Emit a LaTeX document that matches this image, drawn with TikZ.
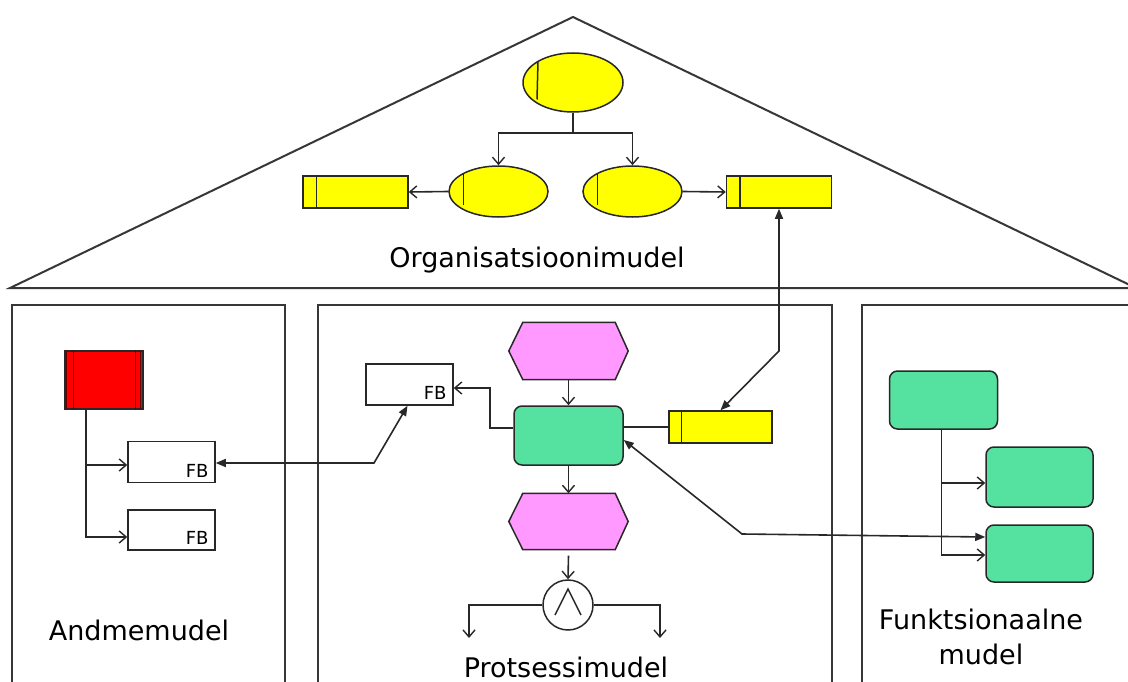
\documentclass[tikz,border=0pt]{standalone}
\usepackage{fontspec}
\setmainfont{DejaVu Sans}
\usetikzlibrary{shapes.geometric,arrows.meta,calc}
\definecolor{orgyellow}{RGB}{255,255,0}
\definecolor{evpink}{RGB}{255,153,255}
\definecolor{fngreen}{RGB}{85,225,160}
\definecolor{linegray}{RGB}{40,40,40}
\definecolor{framegray}{RGB}{55,55,55}
\definecolor{barred}{RGB}{100,0,0}
\begin{document}
\begin{tikzpicture}[x=1pt,y=-1pt,
  ln/.style={draw=linegray, line width=1.6pt},
  arr/.style={ln, -{Straight Barb[length=7pt,width=12pt,line width=1.4pt]}},
  arrboth/.style={ln, {Triangle[length=10pt,width=8pt]}-{Triangle[length=10pt,width=8pt]}},
  panel/.style={draw=framegray, line width=2pt},
  orgunit/.style={ellipse, draw=linegray, line width=1.5pt, fill=orgyellow, inner sep=0pt},
  role/.style={rectangle, draw=linegray, line width=1.5pt, fill=orgyellow, minimum width=105pt, minimum height=32pt, inner sep=0pt},
  fn/.style={rectangle, rounded corners=8pt, draw=linegray, line width=1.5pt, fill=fngreen, minimum width=108pt, minimum height=58pt, inner sep=0pt},
  evbox/.style={rectangle, minimum width=119pt, minimum height=57pt, inner sep=0pt},
  hexa/.style={draw=linegray, line width=1.5pt, fill=evpink},
  fbbox/.style={rectangle, draw=linegray, line width=1.5pt, fill=white, minimum width=87pt, minimum height=41pt, inner sep=0pt},
  fbtxt/.style={font=\fontsize{18}{18}\selectfont, inner sep=0pt, anchor=base east},
  lbl/.style={font=\fontsize{27}{35}\selectfont, inner sep=0pt, align=center},
  tick/.style={draw=linegray, line width=1.5pt},
]
\useasboundingbox (0,0) rectangle (1128,682);
\clip (0,0) rectangle (1128,682);
\fill[white] (0,0) rectangle (1128,682);

% roof and the three pillars
\draw[panel] (10,288) -- (573,17) -- (1136,288) -- cycle;
\draw[panel] (12,305) rectangle (285,700);
\draw[panel] (318,305) rectangle (832,700);
\draw[panel] (862,305) rectangle (1140,700);

% ---------------- organisation model ----------------
\node[orgunit, minimum width=100pt, minimum height=59pt] (ouTop) at (573,82.5) {};
\node[orgunit, minimum width=99pt, minimum height=51pt] (ouL) at (498.5,191.5) {};
\node[orgunit, minimum width=99pt, minimum height=51pt] (ouR) at (632.5,191.5) {};
\draw[tick] ($(ouTop.center)+(-35,-21)$) -- ($(ouTop.center)+(-36,17)$);
\draw[tick] ($(ouL.center)+(-35,-18)$) -- ($(ouL.center)+(-35,14)$);
\draw[tick] ($(ouR.center)+(-35,-18)$) -- ($(ouR.center)+(-35,14)$);
\node[role] (roL) at (355.5,192) {};
\node[role] (roR) at (779,192) {};
\draw[tick] ($(roL.north west)+(14,0)$) -- ($(roL.south west)+(14,0)$);
\draw[tick] ($(roR.north west)+(14,0)$) -- ($(roR.south west)+(14,0)$);
\draw[arr] (ouTop.south) -- ++(0,20) -| (ouL.north);
\draw[arr] (ouTop.south) -- ++(0,20) -| (ouR.north);
\draw[arr] (ouL.west) -- (roL.east);
\draw[arr] (ouR.east) -- (roR.west);
\node[lbl] (tOrg) at (537,260) {Organisatsioonimudel};

% ---------------- data model ----------------
\node[rectangle, draw=linegray, line width=1.5pt, fill=red, minimum width=78pt, minimum height=58pt, inner sep=0pt] (ent) at (104,380) {};
\foreach \dx in {2.5,9} \draw[barred, line width=1.4pt] ($(ent.north west)+(\dx,0)$) -- ($(ent.south west)+(\dx,0)$);
\foreach \dx in {-8,-3.5} \draw[barred, line width=1.4pt] ($(ent.north east)+(\dx,0)$) -- ($(ent.south east)+(\dx,0)$);
\node[fbbox] (fbA) at (171.5,462) {};
\node[fbbox, minimum height=40pt] (fbB) at (171.5,530) {};
\node[fbtxt] (fbAt) at ([xshift=-7pt,yshift=6pt]fbA.south east) {FB};
\node[fbtxt] (fbBt) at ([xshift=-7pt,yshift=6pt]fbB.south east) {FB};
\draw[arr] ([xshift=-18pt]ent.south) |- ([yshift=-3pt]fbA.west);
\draw[arr] ([xshift=-18pt]ent.south) |- ([yshift=-7pt]fbB.west);
\node[lbl] (tData) at (139,630) {Andmemudel};

% ---------------- process model ----------------
\node[evbox] (ev1) at (568.5,351) {};
\draw[hexa] (ev1.west) -- ([xshift=14pt]ev1.north west) -- ([xshift=-13pt]ev1.north east)
  -- (ev1.east) -- ([xshift=-13pt]ev1.south east) -- ([xshift=14pt]ev1.south west) -- cycle;
\node[fn, minimum width=109pt, minimum height=59pt] (proc) at (568.5,435.5) {};
\node[evbox, minimum height=56pt] (ev2) at (568.5,521.5) {};
\draw[hexa] (ev2.west) -- ([xshift=14pt]ev2.north west) -- ([xshift=-13pt]ev2.north east)
  -- (ev2.east) -- ([xshift=-13pt]ev2.south east) -- ([xshift=14pt]ev2.south west) -- cycle;
\node[circle, draw=linegray, line width=1.5pt, fill=white, minimum size=50pt, inner sep=0pt] (conn) at (568,605) {};
\draw[tick] ($(conn.center)+(-13,10)$) -- ($(conn.center)+(0,-16)$) -- ($(conn.center)+(13,10)$);
\coordinate (outL) at (469,638);
\coordinate (outR) at (660,638);
\draw[arr] (ev1.south) -- (proc.north);
\draw[arr] (proc.south) -- (ev2.north);
\draw[arr] ([yshift=-6pt]ev2.south) -- (conn.north);
\draw[arr] (conn.west) -| (outL);
\draw[arr] (conn.east) -| (outR);
\node[fbbox] (fbM) at (409.5,384.5) {};
\node[fbtxt] (fbMt) at ([xshift=-7pt,yshift=6pt]fbM.south east) {FB};
\node[role, minimum width=103pt] (roM) at (720.5,427) {};
\draw[tick] ($(roM.north west)+(13,0)$) -- ($(roM.south west)+(13,0)$);
\draw[arr] ([yshift=7.5pt]proc.west) -- ++(-23,0) |- ([yshift=-3.5pt]fbM.east);
\draw[ln] (roM.west) -- (roM.west -| proc.east);
\node[lbl] (tProc) at (566,667) {Protsessimudel};

% ---------------- function model ----------------
\node[fn] (fA) at (943.5,400) {};
\node[fn, minimum width=107pt, minimum height=60pt] (fB) at (1039.5,477) {};
\node[fn, minimum width=107pt, minimum height=57pt] (fC) at (1039.5,553.5) {};
\draw[arr] ([xshift=-2pt]fA.south) |- ([yshift=-6pt]fB.west);
\draw[arr] ([xshift=-2pt]fA.south) |- ([yshift=-1.5pt]fC.west);
\node[lbl] (tFn) at (981,637) {Funktsionaalne\\mudel};

% ---------------- links between the models ----------------
\coordinate (kOrg) at (779,351);
\coordinate (kFb) at (374,463);
\coordinate (kFn) at (742,534);
\draw[arrboth] (roM.north) -- (kOrg) -- (roR.south);
\draw[arrboth] (fbA.east |- kFb) -- (kFb) -- ([xshift=-2pt]fbM.south);
\draw[arrboth] ([yshift=-4.5pt]proc.east) -- (kFn) -- ([yshift=16.5pt]fC.west);
\end{tikzpicture}
\end{document}
